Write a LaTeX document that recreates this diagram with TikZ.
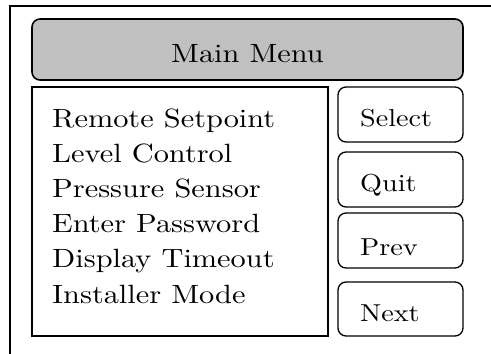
\documentclass[tikz,border=0pt]{standalone}
\usepackage{fontspec}
\setmainfont{lmroman10-regular.otf}[FakeStretch=1.15]
\definecolor{menugray}{RGB}{192,192,192}
\begin{document}
\begin{tikzpicture}[x=1pt,y=-1pt,
  frameline/.style={line width=2.2pt},
  panel/.style={draw,inner sep=0pt,outer sep=0pt,anchor=north west},
  titlebox/.style={panel,line width=1.6pt,rounded corners=8pt,fill=menugray},
  listbox/.style={panel,line width=1.8pt},
  btnbox/.style={panel,line width=1.3pt,rounded corners=8pt,minimum width=125pt,minimum height=55pt},
  bigtext/.style={inner sep=0pt,anchor=base west,font=\fontsize{26.4}{32}\selectfont},
  btntext/.style={inner sep=0pt,anchor=base west,font=\fontsize{24.5}{30}\selectfont}]
\useasboundingbox (0,0) rectangle (491,354);
\clip (0,0) rectangle (491,354);
% outer frame (partially visible)
\coordinate (fbl) at (10,360);
\coordinate (ftl) at (10,6);
\coordinate (ftr) at (500,6);
\draw[frameline] (fbl) -- (ftl) -- (ftr);
% title bar
\node[titlebox,minimum width=431pt,minimum height=61pt] (title) at (32,19) {};
\node[inner sep=0pt,anchor=base,font=\fontsize{26.4}{32}\selectfont] (titletext) at (247.5,62) {Main Menu};
% list box
\node[listbox,minimum width=296pt,minimum height=249pt] (list) at (32,87) {};
\node[bigtext] (l1) at (52,127) {Remote Setpoint};
\node[bigtext] (l2) at (52,162.2) {Level Control};
\node[bigtext] (l3) at (52,197.4) {Pressure Sensor};
\node[bigtext] (l4) at (52,232.6) {Enter Password};
\node[bigtext] (l5) at (52,267.8) {Display Timeout};
\node[bigtext] (l6) at (52,303) {Installer Mode};
% buttons
\node[btnbox] (bsel) at (338,87) {};
\node[btnbox] (bquit) at (338,152) {};
\node[btnbox] (bprev) at (338,213) {};
\node[btnbox,minimum height=54pt] (bnext) at (338,282) {};
\node[btntext] (tsel) at (360,126) {Select};
\node[btntext] (tquit) at (360,191) {Quit};
\node[btntext] (tprev) at (360,255) {Prev};
\node[btntext] (tnext) at (360,321) {Next};
\end{tikzpicture}
\end{document}
